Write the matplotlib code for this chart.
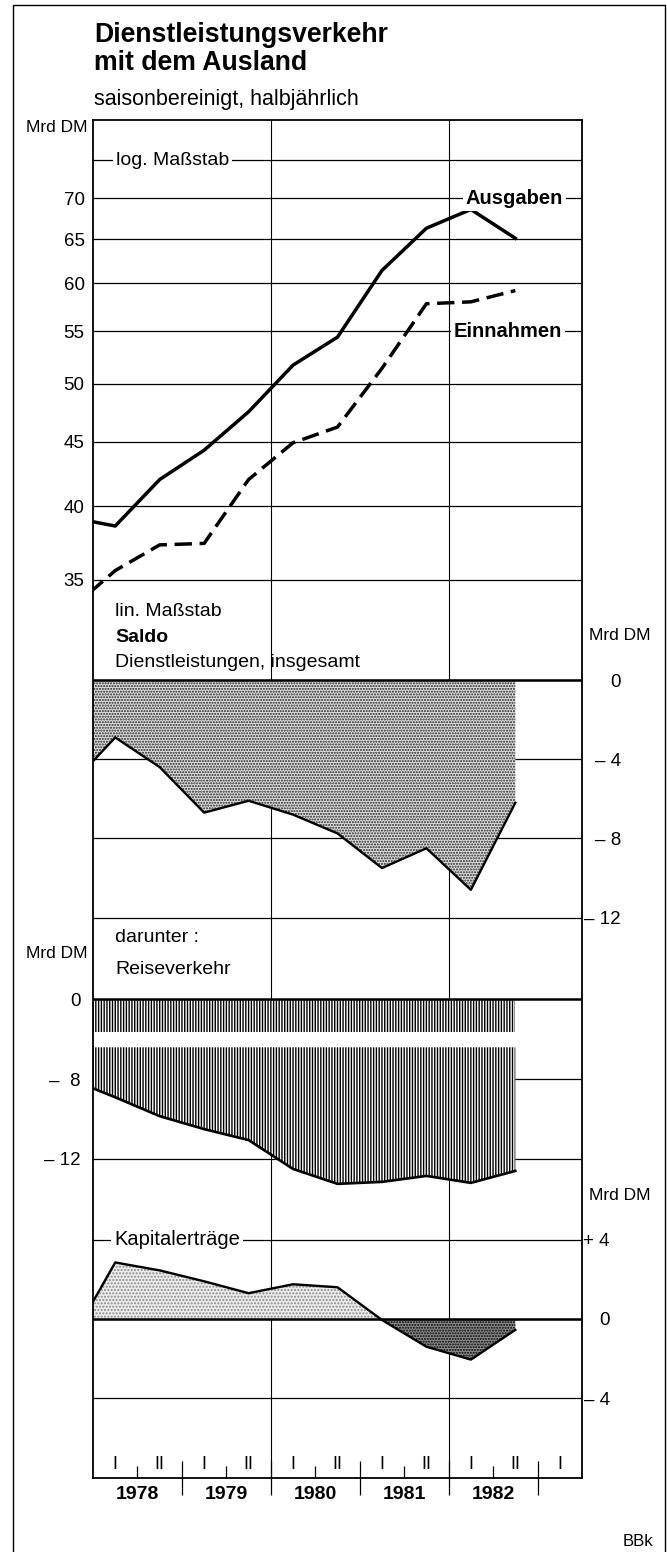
import matplotlib
matplotlib.use("Agg")
import matplotlib.pyplot as plt
import matplotlib.transforms as mtransforms
from matplotlib.patches import Rectangle
import numpy as np

plt.rcParams['font.family'] = ['Liberation Sans', 'DejaVu Sans']
plt.rcParams['hatch.linewidth'] = 1.0

# Halbjahre; 1977 II nur fuer den Anschnitt am linken Rand
perioden = ['1977 II', '1978 I', '1978 II', '1979 I', '1979 II', '1980 I',
            '1980 II', '1981 I', '1981 II', '1982 I', '1982 II']
ausgaben = [39.2, 38.6, 42.0, 44.3, 47.5, 51.7, 54.4, 61.4, 66.3, 68.6, 65.1]
einnahmen = [33.2, 35.6, 37.3, 37.4, 42.0, 44.9, 46.2, 51.4, 57.8, 58.0, 59.2]
saldo = [-5.3, -2.9, -4.4, -6.7, -6.1, -6.8, -7.75, -9.5, -8.5, -10.6, -6.2]
reise = [-8.0, -8.9, -9.85, -10.5, -11.05, -12.5, -13.25, -13.15, -12.85, -13.2, -12.6]
kapital = [-1.1, 2.85, 2.45, 1.9, 1.3, 1.75, 1.6, -0.05, -1.4, -2.05, -0.55]

log_ticks = [35, 40, 45, 50, 55, 60, 65, 70, 75]
log_labels = ['35', '40', '45', '50', '55', '60', '65', '70', '']
saldo_ticks = [0, -4, -8, -12]
saldo_labels = ['0', '– 4', '– 8', '– 12']
kap_ticks = [4, 0, -4]
kap_labels = ['+ 4', '0', '– 4']
jahre = [1978, 1979, 1980, 1981, 1982]

x = np.array([int(p.split()[0]) + (0.25 if p.split()[1] == 'I' else 0.75) for p in perioden])

W, H = 667, 1552
fig = plt.figure(figsize=(W / 100, H / 100), dpi=100)

BX0, BX1 = 93, 582
XLIM = (1978, 1983.5)
gitter_jahre = [1980, 1982]


def px_axes(y0, y1):
    return fig.add_axes([BX0 / W, 1 - y1 / H, (BX1 - BX0) / W, (y1 - y0) / H])


def px_text(xp, yp, s, **kw):
    kw.setdefault('fontsize', 14)
    kw.setdefault('va', 'center')
    return fig.text(xp / W, 1 - yp / H, s, **kw)


def panel(y0, y1, ylim, log=False):
    ax = px_axes(y0, y1)
    if log:
        ax.set_yscale('log')
        ax.yaxis.set_minor_locator(matplotlib.ticker.NullLocator())
    ax.set_xlim(*XLIM)
    ax.set_ylim(*ylim)
    for s in ax.spines.values():
        s.set_visible(False)
    ax.set_xticks([])
    ax.tick_params(length=0, labelsize=13.5)
    ax.patch.set_visible(False)
    ax.set_axisbelow(True)
    for j in gitter_jahre:
        ax.axvline(j, color='k', lw=0.8, zorder=0.5)
    return ax


def on_line(ax, xf, yv, s, size=14, **kw):
    tr = mtransforms.blended_transform_factory(ax.transAxes, ax.transData)
    ax.text(xf, yv, s, transform=tr, va='center', fontsize=size, zorder=5,
            bbox=dict(fc='white', ec='none', pad=2), **kw)


def right_labels(ax, ticks, labels, pad):
    ax.yaxis.tick_right()
    ax.set_yticks(ticks, labels)
    ax.tick_params(axis='y', pad=pad)
    for t in ax.get_yticklabels():
        t.set_ha('right')


# --- log. Massstab ---
ax1 = panel(120, 592, (34.24, 80.7), log=True)
ax1.set_yticks(log_ticks, log_labels)
ax1.tick_params(axis='y', pad=6)
ax1.grid(axis='y', color='k', lw=0.9)
ax1.plot(x, ausgaben, color='k', lw=2.5)
ax1.plot(x, einnahmen, color='k', lw=2.5, dashes=(5, 2.2))
on_line(ax1, 0.047, 75, 'log. Maßstab', ha='left')
on_line(ax1, 0.862, 70, 'Ausgaben', size=14.5, ha='center', fontweight='bold')
on_line(ax1, 0.848, 55, 'Einnahmen', size=14.5, ha='center', fontweight='bold')

# --- Saldo ---
ax2 = panel(592, 930, (-12.63, 4.45))
right_labels(ax2, saldo_ticks, saldo_labels, 28)
ax2.grid(axis='y', color='k', lw=0.9)
ax2.fill_between(x, 0, saldo, facecolor='#dedede', edgecolor='#222222', hatch='......', lw=0, zorder=1)
ax2.plot(x, saldo, color='k', lw=1.7, zorder=3)
ax2.axhline(0, color='k', lw=1.8, zorder=3)

# --- Reiseverkehr (Achse unterbrochen) ---
ax3a = panel(930, 1031.7, (-1.63, 3.48))
ax3a.set_yticks([0], ['0'])
ax3a.tick_params(axis='y', pad=9)
ax3a.fill_between(x, 0, ax3a.get_ylim()[0], facecolor='white', edgecolor='k',
                  hatch='||||||', lw=0, zorder=1)
ax3a.axhline(0, color='k', lw=1.8, zorder=3)

ax3b = panel(1047.3, 1200, (-14.06, -6.39))
ax3b.set_yticks([-8, -12], ['–  8', '– 12'])
ax3b.tick_params(axis='y', pad=9)
ax3b.grid(axis='y', color='k', lw=0.9)
ax3b.fill_between(x, ax3b.get_ylim()[1], reise, facecolor='white', edgecolor='k',
                  hatch='||||||', lw=0, zorder=1)
ax3b.plot(x, reise, color='k', lw=1.9, zorder=3)

# --- Kapitalertraege ---
ax4 = panel(1200, 1478, (-8.02, 6.0))
right_labels(ax4, kap_ticks, kap_labels, 20)
ax4.grid(axis='y', color='k', lw=0.9)
kap = np.array(kapital)
ax4.fill_between(x, 0, kap, where=kap >= 0, interpolate=True, facecolor='#ececec',
                 edgecolor='#8a8a8a', hatch='.....', lw=0, zorder=1)
ax4.fill_between(x, 0, kap, where=kap <= 0, interpolate=True, facecolor='#8e8e8e',
                 edgecolor='k', hatch='......', lw=0, zorder=1)
ax4.plot(x, kap, color='k', lw=1.7, zorder=3)
ax4.axhline(0, color='k', lw=1.8, zorder=3)
on_line(ax4, 0.043, 4, 'Kapitalerträge', size=14.5, ha='left')

ax4.set_xticks(jahre[1:] + [1983])
ax4.set_xticklabels([])
ax4.tick_params(axis='x', which='major', direction='inout', length=25, width=0.9)
ax4.set_xticks([j + 0.5 for j in jahre], [str(j) for j in jahre], minor=True)
ax4.tick_params(axis='x', which='minor', direction='in', length=8.5, width=0.9,
                pad=6, labelsize=14)
for t in ax4.get_xticklabels(minor=True):
    t.set_fontweight('bold')
tr4 = mtransforms.blended_transform_factory(ax4.transData, ax4.transAxes)
for j in jahre + [1983]:
    for off, s in ((0.25, 'I'), (0.75, 'II')):
        if j + off < XLIM[1]:
            ax4.text(j + off, 0.049, s, transform=tr4, ha='center', va='center',
                     fontsize=13)

# Rahmen des Diagramms
axb = px_axes(120, 1478)
axb.set_xticks([])
axb.set_yticks([])
axb.patch.set_visible(False)
for s in axb.spines.values():
    s.set_linewidth(1.3)

# aeusserer Rahmen
fig.add_artist(Rectangle((13 / W, 1 - 1560 / H), (665 - 13) / W, (1560 - 5) / H,
                         transform=fig.transFigure, fill=False, lw=1.0, ec='k', clip_on=False))

px_text(94, 22, 'Dienstleistungsverkehr\nmit dem Ausland', fontsize=19.2,
        fontweight='bold', va='top', linespacing=1.1)
px_text(94, 100, 'saisonbereinigt, halbjährlich', fontsize=15.5)
px_text(88, 127, 'Mrd DM', ha='right', fontsize=12.5)
px_text(115, 612, 'lin. Maßstab')
px_text(115, 638, 'Saldo', fontweight='bold')
px_text(115, 662, 'Dienstleistungen, insgesamt')
px_text(589, 635, 'Mrd DM', fontsize=12.5)
px_text(115, 938, 'darunter :')
px_text(87, 953, 'Mrd DM', ha='right', fontsize=12.5)
px_text(115, 970, 'Reiseverkehr')
px_text(589, 1195, 'Mrd DM', fontsize=12.5)
px_text(653, 1542, 'BBk', ha='right', fontsize=12)

fig.savefig('out.png', dpi=100)
